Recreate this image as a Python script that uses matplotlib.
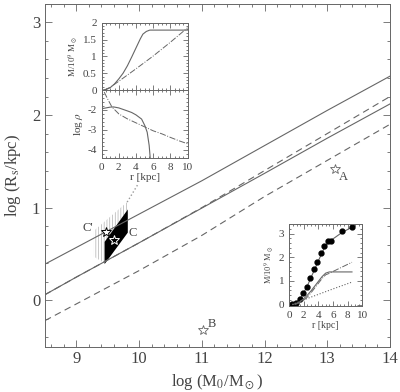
import numpy as np
import matplotlib
matplotlib.use("Agg")
import matplotlib.pyplot as plt
from matplotlib.ticker import MultipleLocator, FormatStrFormatter

plt.rcParams['font.family'] = ['Liberation Serif', 'DejaVu Serif']
plt.rcParams['mathtext.fontset'] = 'stix'
plt.rcParams['hatch.linewidth'] = 0.5

# main panel: R_s vs M_0 lines
xLine = [8.5, 9.0, 10.0, 11.0, 12.0, 13.0, 14.0]
upperSolid = [0.39, 0.57, 0.93, 1.29, 1.67, 2.05, 2.42]
lowerSolid = [0.06, 0.25, 0.62, 0.995, 1.37, 1.75, 2.12]
upperDash = [0.06, 0.25, 0.62, 1.00, 1.40, 1.80, 2.20]
lowerDash = [-0.22, -0.04, 0.32, 0.70, 1.12, 1.51, 1.90]

# galaxies (stars)
starNames = ["A", "B"]
starX = [13.13, 11.02]
starY = [1.42, -0.32]
labelX = [13.26, 11.16]
labelY = [1.33, -0.26]

# C and C' regions
blackX = [9.45, 9.45, 9.82, 9.82]
blackY = [0.39, 0.63, 0.98, 0.73]
hatchX = [9.28, 9.28, 9.81, 9.82, 9.45, 9.45]
hatchY = [0.47, 0.75, 1.06, 0.98, 0.63, 0.40]
dotX = [9.81, 9.98]
dotY = [1.06, 1.25]
cStar = (9.60, 0.65)
cpStar = (9.47, 0.74)

# inset 1: mass and density profiles
rM1 = [0, 0.5, 1, 1.5, 2, 2.5, 3, 3.5, 4, 4.5, 4.8, 5.2, 5.6, 10]
M1 = [0, 0.01, 0.07, 0.18, 0.33, 0.5, 0.72, 0.98, 1.25, 1.52, 1.66, 1.74, 1.78, 1.78]
rM1dd = [0.3, 1, 2, 4, 6, 8, 10]
M1dd = [0, 0.08, 0.26, 0.63, 1.01, 1.42, 1.85]
rRho = [0, 0.5, 1.0, 1.4, 2, 3, 3.5, 4.0, 4.65, 5.03, 5.3, 5.53, 5.65]
rho = [-1.94, -1.9, -1.86, -1.85, -1.9, -2.05, -2.13, -2.25, -2.46, -2.79, -3.12, -3.78, -4.4]
rRhodd = [0.3, 0.7, 1.2, 2, 3, 4, 5, 6, 7, 8, 9, 10]
rhodd = [-1.1, -1.45, -1.85, -2.2, -2.45, -2.65, -2.85, -3.05, -3.2, -3.38, -3.55, -3.7]

# inset 2: observed mass profile
rObs = [0.41, 0.92, 1.43, 1.94, 2.4, 2.9, 3.36, 3.82, 4.29, 4.79, 5.25, 5.76, 7.19, 8.57]
MObs = [0.02, 0.08, 0.23, 0.47, 0.76, 1.11, 1.5, 1.81, 2.17, 2.5, 2.69, 2.69, 3.13, 3.27]
rFit = [0.4, 1, 1.5, 2, 2.5, 3, 3.5, 4, 4.5, 5, 5.5, 6, 7, 8, 8.6]
MFit = [0, 0.1, 0.25, 0.5, 0.8, 1.15, 1.5, 1.85, 2.2, 2.5, 2.65, 2.78, 3.0, 3.18, 3.27]
rGal = [0.5, 1, 1.5, 2, 2.5, 3, 3.5, 4, 4.5, 5, 5.5, 6, 8.6]
MGal = [0, 0.05, 0.12, 0.25, 0.4, 0.58, 0.78, 0.98, 1.18, 1.33, 1.38, 1.38, 1.38]
rDD = [0.8, 1.5, 2, 2.5, 3, 3.5, 4, 4.5, 5, 5.5, 6, 7, 8, 8.6]
MDD = [0, 0.08, 0.18, 0.32, 0.5, 0.7, 0.9, 1.1, 1.26, 1.32, 1.4, 1.55, 1.7, 1.79]
rDot = [0.4, 2, 4, 6, 8.6]
MDot = [0, 0.2, 0.43, 0.66, 0.95]

lc = '#666666'
tc = '#444444'


def style(ax, xmaj, xmin, ymaj, ymin, size, big=True):
    ax.xaxis.set_major_locator(MultipleLocator(xmaj))
    ax.xaxis.set_minor_locator(MultipleLocator(xmin))
    ax.yaxis.set_major_locator(MultipleLocator(ymaj))
    ax.yaxis.set_minor_locator(MultipleLocator(ymin))
    ax.xaxis.set_major_formatter(FormatStrFormatter('%g'))
    ax.yaxis.set_major_formatter(FormatStrFormatter('%g'))
    L = 5 if big else 3.5
    ax.tick_params(which='both', direction='in', top=True, right=True,
                   colors=lc, labelcolor=tc, labelsize=size, width=0.6)
    ax.tick_params(which='major', length=L)
    ax.tick_params(which='minor', length=L * 0.5)
    for s in ax.spines.values():
        s.set_color(lc)
        s.set_linewidth(0.7)


fig = plt.figure(figsize=(4.0, 3.92), dpi=100)
ax = fig.add_axes([0.1125, 0.116, 0.8625, 0.874])
ax.plot(xLine, upperSolid, '-', color=lc, lw=0.8)
ax.plot(xLine, lowerSolid, '-', color=lc, lw=0.8)
ax.plot(xLine, upperDash, '--', color=lc, lw=0.8, dashes=(6, 4))
ax.plot(xLine, lowerDash, '--', color=lc, lw=0.8, dashes=(6, 4))
ax.fill(hatchX, hatchY, facecolor='none', edgecolor='#b0b0b0', hatch='||||||', lw=0)
ax.plot(dotX, dotY, ':', color='#999999', lw=1.0)
ax.fill(blackX, blackY, color='black', lw=0)
ax.plot(*cpStar, marker='*', ms=7, mfc='white', mec='black', mew=0.7)
ax.plot(*cStar, marker='*', ms=7, mfc='black', mec='white', mew=0.7)
ax.text(9.18, 0.78, "C'", fontsize=9, color=tc, ha='center', va='center')
ax.text(9.9, 0.73, "C", fontsize=9, color=tc, ha='center', va='center')
for i in range(len(starNames)):
    ax.plot(starX[i], starY[i], marker='*', ms=7, mfc='white', mec=lc, mew=0.6)
    ax.text(labelX[i], labelY[i], starNames[i], fontsize=9, color=tc, ha='center', va='center')
ax.set_xlim(8.5, 14)
ax.set_ylim(-0.5, 3.2)
style(ax, 1, 0.2, 1, 0.2, 12)
ax.set_xlabel(r'log (M$_0$/M$_\odot$)', fontsize=12, color=tc, labelpad=3)
ax.set_ylabel(r'log (R$_{\rm s}$/kpc)', fontsize=12, color=tc, labelpad=6)

# inset 1 upper
a1 = fig.add_axes([0.254, 0.7704, 0.215, 0.1717])
a1.plot(rM1, M1, '-', color=lc, lw=0.8)
a1.plot(rM1dd, M1dd, '-.', color=lc, lw=0.7)
a1.set_xlim(0, 10)
a1.set_ylim(0, 2)
style(a1, 2, 0.5, 0.5, 0.1, 8, big=False)
a1.tick_params(labelbottom=False)
a1.set_ylabel(r'M/10$^9$ M$_\odot$', fontsize=6.5, color=tc, labelpad=2)

# inset 1 lower
a2 = fig.add_axes([0.254, 0.5977, 0.215, 0.1727])
a2.plot(rRho, rho, '-', color=lc, lw=0.8)
a2.plot(rRhodd, rhodd, '-.', color=lc, lw=0.7)
a2.set_xlim(0, 10)
a2.set_ylim(-4.4, -1)
style(a2, 2, 0.5, 1, 0.2, 8, big=False)
a2.set_yticks([-2, -3, -4])
a2.set_ylabel(r'log $\rho$', fontsize=8, color=tc, labelpad=2)
a2.set_xlabel('r [kpc]', fontsize=8, color=tc, labelpad=1)

# inset 2
a3 = fig.add_axes([0.723, 0.2202, 0.1825, 0.2077])
a3.plot(rFit, MFit, '-', color=lc, lw=0.8)
a3.plot(rObs, MObs, 'o', color='black', ms=3.5)
a3.plot(rGal, MGal, '-', color=lc, lw=0.8)
a3.plot(rDD, MDD, '-.', color=lc, lw=0.7)
a3.plot(rDot, MDot, ':', color=lc, lw=0.8)
a3.set_xlim(0, 10)
a3.set_ylim(-0.05, 3.4)
style(a3, 2, 0.5, 1, 0.2, 8, big=False)
a3.set_ylabel(r'M/10$^9$ M$_\odot$', fontsize=6, color=tc, labelpad=2)
a3.set_xlabel('r [kpc]', fontsize=7, color=tc, labelpad=1)

fig.savefig('out.png', dpi=100)
